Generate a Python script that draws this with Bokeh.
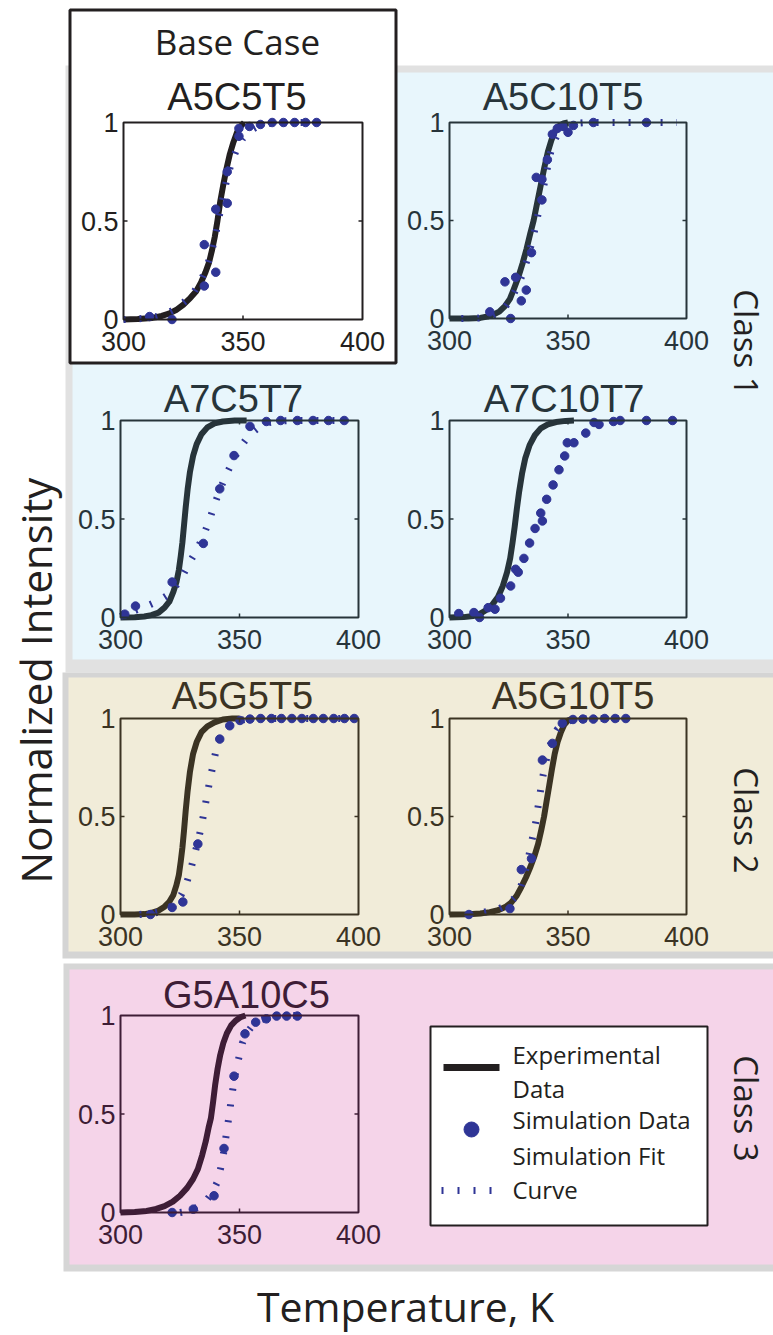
import math
from bokeh.plotting import figure
from bokeh.models import Range1d
from bokeh.core.properties import value
from bokeh.embed import file_html
from bokeh.resources import INLINE

# ---------------- data ----------------
X_TICKS = [300, 350, 400]
X_TICK_LABELS = ["300", "350", "400"]
Y_TICKS = [0, 0.5, 1]
Y_TICK_LABELS = ["0", "0.5", "1"]

# Base case A5C5T5
A5C5T5_exp_T = [300, 306, 312, 316, 319, 322, 325, 328, 330.5, 332.5, 334.3, 335.8, 337, 338.2, 339.3, 340.5, 341.7, 343, 344.5, 346, 347.5, 349, 350.5]
A5C5T5_exp_I = [0, 0.002, 0.008, 0.018, 0.03, 0.048, 0.075, 0.11, 0.145, 0.19, 0.24, 0.29, 0.35, 0.42, 0.5, 0.6, 0.68, 0.76, 0.84, 0.9, 0.95, 0.98, 1.0]
A5C5T5_sim_T = [310.9, 320.3, 333.8, 333.8, 338.6, 338.6, 343.4, 343.4, 348.3, 348.3, 352.7, 357.3, 362.2, 366.9, 371.6, 376.2, 380.8]
A5C5T5_sim_I = [0.015, 0.0, 0.17, 0.38, 0.24, 0.56, 0.59, 0.75, 0.93, 0.97, 0.98, 0.99, 1.0, 1.0, 1.0, 1.0, 1.0]
A5C5T5_fit_T = [300, 308, 314, 318, 322, 326, 329.5, 332.5, 335, 337, 338.5, 340, 341.5, 343, 345, 347.5, 350, 353, 357, 362, 370, 381]
A5C5T5_fit_I = [0.0, 0.005, 0.015, 0.03, 0.055, 0.095, 0.14, 0.2, 0.27, 0.35, 0.43, 0.52, 0.61, 0.7, 0.79, 0.87, 0.92, 0.96, 0.985, 0.997, 1.0, 1.0]

# Class 1: A5C10T5
A5C10T5_exp_T = [300, 308, 313, 316, 318.5, 321, 323.5, 325.5, 327.3, 329, 330.8, 332.5, 334, 335.5, 337, 338.5, 340, 341.5, 343, 344.5, 346, 348, 350]
A5C10T5_exp_I = [0, 0, 0.003, 0.01, 0.02, 0.035, 0.065, 0.1, 0.155, 0.21, 0.28, 0.355, 0.43, 0.5, 0.59, 0.68, 0.77, 0.85, 0.91, 0.955, 0.98, 0.995, 1.0]
A5C10T5_sim_T = [317, 323.4, 325.8, 327.9, 330.3, 332.4, 334.6, 336.6, 339, 339, 341.3, 343.4, 345.5, 347.9, 350, 352.3, 360.7, 383.1]
A5C10T5_sim_I = [0.034, 0.187, 0.0, 0.21, 0.09, 0.145, 0.336, 0.72, 0.71, 0.605, 0.81, 0.94, 0.97, 0.98, 0.95, 0.985, 1.0, 1.0]
A5C10T5_fit_T = [305, 312, 317, 320, 323, 326, 328.5, 331, 333, 335, 336.5, 338, 339.5, 341, 342.5, 344, 346, 348.5, 352, 358, 370, 396]
A5C10T5_fit_I = [0, 0.002, 0.01, 0.025, 0.05, 0.1, 0.16, 0.23, 0.31, 0.4, 0.48, 0.57, 0.66, 0.75, 0.84, 0.9, 0.95, 0.98, 0.995, 1.0, 1.0, 1.0]

# Class 1: A7C5T7
A7C5T7_exp_T = [300, 306, 310, 313, 316, 318.5, 320.5, 322.2, 323.5, 324.5, 325.3, 326, 326.7, 327.4, 328.2, 329.2, 330.5, 332, 334, 336.5, 339.5, 343, 348, 353]
A7C5T7_exp_I = [0, 0.001, 0.005, 0.012, 0.025, 0.05, 0.08, 0.13, 0.18, 0.24, 0.31, 0.38, 0.47, 0.56, 0.65, 0.74, 0.82, 0.88, 0.93, 0.965, 0.985, 0.995, 1.0, 1.0]
A7C5T7_sim_T = [301.8, 306.3, 321.7, 334.8, 341.7, 347.7, 354.4, 361.3, 367.3, 374.3, 380.9, 387.4, 394.0]
A7C5T7_sim_I = [0.017, 0.058, 0.18, 0.376, 0.653, 0.822, 0.97, 0.995, 1.0, 1.0, 1.0, 1.0, 1.0]
A7C5T7_fit_T = [300, 304, 308, 312, 316, 320, 323, 326, 329, 332, 335, 337.5, 340, 342.5, 345, 347.5, 350, 352.5, 355, 358, 361, 365, 372, 395]
A7C5T7_fit_I = [0.005, 0.025, 0.045, 0.063, 0.085, 0.115, 0.155, 0.21, 0.28, 0.34, 0.42, 0.5, 0.59, 0.67, 0.74, 0.8, 0.86, 0.9, 0.935, 0.965, 0.985, 0.997, 1.0, 1.0]

# Class 1: A7C10T7
A7C10T7_exp_T = [300, 306, 310, 313, 315.5, 318, 320.5, 322.5, 324.3, 325.6, 326.6, 327.5, 328.4, 329.4, 330.6, 332, 333.8, 336, 338.5, 341.5, 345, 349, 352.5]
A7C10T7_exp_I = [0, 0.002, 0.008, 0.02, 0.038, 0.065, 0.105, 0.16, 0.23, 0.3, 0.38, 0.46, 0.55, 0.64, 0.73, 0.81, 0.875, 0.925, 0.96, 0.98, 0.992, 0.998, 1.0]
A7C10T7_sim_T = [303.9, 310.3, 312.7, 316.3, 319.2, 321.5, 325.8, 327.9, 329.0, 331.4, 333.8, 336.1, 338.5, 339.2, 341.0, 343.7, 346.2, 348.6, 349.7, 352.5, 357.5, 361.0, 363.1, 369.2, 372.0, 383.1, 394.1]
A7C10T7_sim_I = [0.02, 0.025, 0.0, 0.05, 0.042, 0.098, 0.16, 0.245, 0.23, 0.30, 0.378, 0.452, 0.53, 0.49, 0.6, 0.673, 0.75, 0.82, 0.887, 0.887, 0.936, 0.99, 0.98, 0.995, 1.0, 1.0, 1.0]

# Class 2: A5G5T5
A5G5T5_exp_T = [300, 306, 310, 313, 316, 318.5, 320.5, 322.2, 323.5, 324.5, 325.3, 326, 326.7, 327.4, 328.2, 329.2, 330.5, 332, 334, 336.5, 339.5, 343, 347, 350]
A5G5T5_exp_I = [0, 0, 0.002, 0.008, 0.02, 0.04, 0.065, 0.1, 0.15, 0.2, 0.27, 0.34, 0.43, 0.53, 0.63, 0.73, 0.82, 0.88, 0.93, 0.96, 0.98, 0.995, 1.0, 1.0]
A5G5T5_sim_T = [312.6, 321.7, 326.2, 332.5, 341.7, 345.9, 350.2, 354.4, 358.9, 363.4, 367.6, 372.0, 376.2, 381.0, 385.2, 389.6, 394.1, 398.2]
A5G5T5_sim_I = [0.0, 0.036, 0.064, 0.36, 0.895, 0.963, 0.99, 0.997, 1.0, 1.0, 1.0, 1.0, 1.0, 1.0, 1.0, 1.0, 1.0, 1.0]
A5G5T5_fit_T = [308, 313, 317, 320, 323, 325.5, 327.5, 329.3, 331, 332.5, 334, 335.5, 337, 338.5, 340, 341.7, 343.5, 346, 349, 353, 360, 400]
A5G5T5_fit_I = [0, 0.005, 0.015, 0.03, 0.06, 0.1, 0.15, 0.22, 0.3, 0.37, 0.45, 0.55, 0.65, 0.74, 0.83, 0.89, 0.93, 0.965, 0.985, 0.997, 1.0, 1.0]

# Class 2: A5G10T5
A5G10T5_exp_T = [300, 308, 313, 317, 320.5, 323.5, 326, 328.3, 330.3, 332.3, 334.2, 335.9, 337.4, 338.7, 339.9, 341, 342.1, 343.2, 344.4, 345.6, 347, 348.5, 350, 352]
A5G10T5_exp_I = [0, 0.001, 0.005, 0.012, 0.022, 0.038, 0.06, 0.095, 0.14, 0.19, 0.245, 0.3, 0.36, 0.43, 0.5, 0.58, 0.66, 0.74, 0.82, 0.88, 0.93, 0.97, 0.99, 1.0]
A5G10T5_sim_T = [308.2, 325.5, 330.3, 334.6, 339.2, 343.4, 347.6, 352.1, 356.3, 360.7, 365.5, 369.9, 374.4]
A5G10T5_sim_I = [0.0, 0.03, 0.229, 0.285, 0.788, 0.873, 0.976, 0.995, 0.997, 0.997, 1.0, 1.0, 1.0]
A5G10T5_fit_T = [308, 313, 317, 321, 324.5, 327.5, 330, 332, 333.5, 334.8, 336, 337, 338, 339, 340.3, 341.8, 343.5, 345.5, 348, 352, 360, 375]
A5G10T5_fit_I = [0, 0.008, 0.018, 0.03, 0.05, 0.085, 0.14, 0.22, 0.3, 0.38, 0.44, 0.52, 0.6, 0.68, 0.76, 0.84, 0.9, 0.945, 0.975, 0.995, 1.0, 1.0]

# Class 3: G5A10C5
G5A10C5_exp_T = [300, 306, 311, 315, 318.5, 322, 325, 328, 330.5, 332.5, 334.3, 335.8, 337, 338, 338.9, 339.8, 340.8, 341.9, 343.2, 344.7, 346.5, 348.5, 350.5, 352.5]
G5A10C5_exp_I = [0, 0.002, 0.008, 0.018, 0.032, 0.055, 0.085, 0.125, 0.17, 0.22, 0.29, 0.36, 0.43, 0.48, 0.56, 0.65, 0.73, 0.8, 0.86, 0.91, 0.95, 0.975, 0.992, 1.0]
G5A10C5_sim_T = [321.7, 330.6, 339.3, 343.5, 347.7, 352.3, 356.8, 361.3, 365.6, 369.8, 374.3]
G5A10C5_sim_I = [0.0, 0.017, 0.085, 0.325, 0.692, 0.907, 0.966, 0.983, 0.997, 0.997, 0.997]
G5A10C5_fit_T = [325, 329, 333, 336, 338.5, 340.5, 342, 343.3, 344.5, 345.6, 346.5, 347.5, 348.5, 349.8, 351.2, 353, 355.5, 358.5, 362, 366, 375]
G5A10C5_fit_I = [0, 0.008, 0.03, 0.06, 0.1, 0.15, 0.22, 0.3, 0.4, 0.49, 0.57, 0.65, 0.72, 0.79, 0.86, 0.91, 0.95, 0.975, 0.99, 1.0, 1.0]

LEGEND_LABELS = ["Experimental", "Data", "Simulation Data", "Simulation Fit", "Curve"]

# ---------------- styling ----------------
BLACK = "#231f20"
C1 = "#27343a"
C2 = "#3b3323"
C3 = "#3e1d36"
BLUE = "#2f3596"
SANS = value("Liberation Sans")
HUMAN = value("Open Sans")

W, H = 773, 1335
p = figure(width=W, height=H, x_range=Range1d(0, W), y_range=Range1d(H, 0),
           output_backend="svg", toolbar_location=None, tools="",
           x_axis_type=None, y_axis_type=None, min_border=0)
p.outline_line_color = None
p.background_fill_color = "white"
p.border_fill_color = "white"

# class panels: outer gray frame then coloured interior
def panel_bg(outer, inner, gray, fill):
    l, r, t, b = outer
    p.quad(left=[l], right=[r], top=[t], bottom=[b], fill_color=gray, line_color=None)
    l, r, t, b = inner
    p.quad(left=[l], right=[r], top=[t], bottom=[b], fill_color=fill, line_color=None)

panel_bg((65, 790, 65, 672), (72, 790, 72, 659), "#e1e1e1", "#e8f6fc")
panel_bg((62, 790, 672, 958), (68, 790, 677, 951), "#d4d4d4", "#f1ecd9")
panel_bg((63, 790, 963, 1271), (69, 790, 969, 1264), "#d6d6d6", "#f5d4e9")

# Base case box
p.quad(left=[69.5], right=[395.5], top=[9.5], bottom=[362.5], fill_color="white",
       line_color=BLACK, line_width=3)
p.text(x=[237], y=[41], text=["Base Case"], text_font=HUMAN, text_font_size="35px",
       text_color=BLACK, text_align="center", text_baseline="middle")

PANELS = [
    dict(name="A5C5T5", box=(123, 362, 122, 319), color=BLACK, tdx=-6, tdy=-26,
         exp=(A5C5T5_exp_T, A5C5T5_exp_I), sim=(A5C5T5_sim_T, A5C5T5_sim_I), fit=(A5C5T5_fit_T, A5C5T5_fit_I)),
    dict(name="A5C10T5", box=(449, 686, 122, 318), color=C1, tdx=-5, tdy=-26,
         exp=(A5C10T5_exp_T, A5C10T5_exp_I), sim=(A5C10T5_sim_T, A5C10T5_sim_I), fit=(A5C10T5_fit_T, A5C10T5_fit_I)),
    dict(name="A7C5T7", box=(120, 358, 420, 617), color=C1, tdx=-6, tdy=-22,
         exp=(A7C5T7_exp_T, A7C5T7_exp_I), sim=(A7C5T7_sim_T, A7C5T7_sim_I), fit=(A7C5T7_fit_T, A7C5T7_fit_I)),
    dict(name="A7C10T7", box=(449, 686, 420, 617), color=C1, tdx=-4, tdy=-22,
         exp=(A7C10T7_exp_T, A7C10T7_exp_I), sim=(A7C10T7_sim_T, A7C10T7_sim_I), fit=None),
    dict(name="A5G5T5", box=(120, 358, 718, 914), color=C2, tdx=3, tdy=-23,
         exp=(A5G5T5_exp_T, A5G5T5_exp_I), sim=(A5G5T5_sim_T, A5G5T5_sim_I), fit=(A5G5T5_fit_T, A5G5T5_fit_I)),
    dict(name="A5G10T5", box=(449, 686, 718, 914), color=C2, tdx=5, tdy=-23,
         exp=(A5G10T5_exp_T, A5G10T5_exp_I), sim=(A5G10T5_sim_T, A5G10T5_sim_I), fit=(A5G10T5_fit_T, A5G10T5_fit_I)),
    dict(name="G5A10C5", box=(120, 358, 1015, 1212), color=C3, tdx=7, tdy=-21,
         exp=(G5A10C5_exp_T, G5A10C5_exp_I), sim=(G5A10C5_sim_T, G5A10C5_sim_I), fit=(G5A10C5_fit_T, G5A10C5_fit_I)),
]

TICK_PX = 4

for spec in PANELS:
    l, r, t, b = spec["box"]
    c = spec["color"]
    x0, xm, x1 = X_TICKS
    y0, ym, y1 = Y_TICKS
    s = p.subplot(x_source=Range1d(x0, x1), y_source=Range1d(y0, y1),
                  x_target=Range1d(l, r), y_target=Range1d(b, t))
    kx = TICK_PX * (x1 - x0) / (r - l)
    ky = TICK_PX * (y1 - y0) / (b - t)
    # experimental curve
    s.line(spec["exp"][0], spec["exp"][1], line_color=c, line_width=6,
           line_join="round", line_cap="butt")
    # simulation fit curve
    if spec["fit"] is not None:
        s.line(spec["fit"][0], spec["fit"][1], line_color=BLUE, line_width=7,
               line_dash="2 14", line_cap="butt")
    # simulation data
    s.scatter(spec["sim"][0], spec["sim"][1], size=8.5, fill_color=BLUE, line_color=BLUE)
    # frame + ticks
    s.quad(left=[x0], right=[x1], bottom=[y0], top=[y1], fill_color=None,
           line_color=c, line_width=2)
    s.segment(x0=[xm, xm, x0, x1], y0=[y0, y1, ym, ym],
              x1=[xm, xm, x0 + kx, x1 - kx], y1=[y0 + ky, y1 - ky, ym, ym],
              line_color=c, line_width=1.5)
    # tick labels
    s.text(x=X_TICKS, y=[y0] * len(X_TICKS), text=X_TICK_LABELS, y_offset=22,
           text_font=SANS, text_font_size="27px", text_color=c,
           text_align="center", text_baseline="middle")
    s.text(x=[x0] * len(Y_TICKS), y=Y_TICKS, text=Y_TICK_LABELS, x_offset=-5,
           text_font=SANS, text_font_size="27px", text_color=c,
           text_align="right", text_baseline="middle")
    # title
    s.text(x=[xm], y=[y1], text=[spec["name"]], x_offset=spec["tdx"], y_offset=spec["tdy"],
           text_font=SANS, text_font_size="38px", text_color=c,
           text_align="center", text_baseline="middle")

# class labels
for lbl, yc in [("Class 1", 342), ("Class 2", 820), ("Class 3", 1108)]:
    p.text(x=[746], y=[yc], text=[lbl], angle=-math.pi / 2, text_font=HUMAN,
           text_font_size="33px", text_color=BLACK, text_align="center",
           text_baseline="middle")

# axis titles
p.text(x=[35], y=[680], text=["Normalized Intensity"], angle=math.pi / 2, text_font=HUMAN,
       text_font_size="42px", text_color=BLACK, text_align="center", text_baseline="middle")
p.text(x=[405], y=[1305], text=["Temperature, K"], text_font=HUMAN,
       text_font_size="41px", text_color=BLACK, text_align="center", text_baseline="middle")

# legend
p.quad(left=[430], right=[707], top=[1026], bottom=[1225], fill_color="white",
       line_color=BLACK, line_width=2)
p.line([443, 499], [1067, 1067], line_color=BLACK, line_width=7)
p.scatter([471], [1129], size=15, fill_color=BLUE, line_color=BLUE)
p.line([441, 497], [1190, 1190], line_color=BLUE, line_width=7, line_dash="2 14")
p.text(x=[512] * 5, y=[1054, 1088, 1119, 1155, 1189], text=LEGEND_LABELS, text_font=HUMAN,
       text_font_size="24px", text_color=BLACK, text_align="left", text_baseline="middle")

open("out.html", "w").write(file_html(p, INLINE))
